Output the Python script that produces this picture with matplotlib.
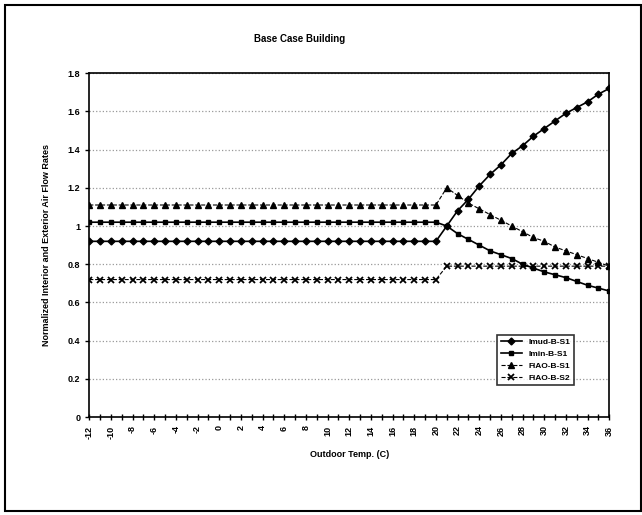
import numpy as np
import matplotlib
matplotlib.use("Agg")
import matplotlib.pyplot as plt
from matplotlib.patches import Rectangle

plt.rcParams["font.family"] = ["Liberation Sans", "DejaVu Sans"]
plt.rcParams["font.weight"] = "bold"

# outdoor temperature, one point per degree
temps = list(range(-12, 37))

# values for -12..20 are flat, then 21..36 change
imud_flat = 0.92
imud_warm = [1.00, 1.08, 1.14, 1.21, 1.27, 1.32, 1.38, 1.42,
             1.47, 1.51, 1.55, 1.59, 1.62, 1.65, 1.69, 1.72]
imin_flat = 1.02
imin_warm = [1.00, 0.96, 0.93, 0.90, 0.87, 0.85, 0.83, 0.80,
             0.78, 0.76, 0.745, 0.73, 0.71, 0.69, 0.675, 0.66]
fiao1_flat = 1.11
fiao1_warm = [1.20, 1.16, 1.12, 1.09, 1.06, 1.03, 1.00, 0.97,
              0.94, 0.92, 0.89, 0.87, 0.85, 0.83, 0.81, 0.79]
fiao2_flat = 0.72
fiao2_warm = [0.79] * 16

n_flat = 33
imud = [imud_flat] * n_flat + imud_warm
imin = [imin_flat] * n_flat + imin_warm
fiao1 = [fiao1_flat] * n_flat + fiao1_warm
fiao2 = [fiao2_flat] * n_flat + fiao2_warm

labels = ["Imud-B-S1", "Imin-B-S1", "FIAO-B-S1", "FIAO-B-S2"]

fig = plt.figure(figsize=(6.42, 5.15), dpi=100)
ax = fig.add_axes([0.139, 0.19, 0.81, 0.668])

ax.plot(temps, imud, "-", color="black", lw=1.2, marker="D", ms=3.5, label=labels[0])
ax.plot(temps, imin, "-", color="black", lw=1.2, marker="s", ms=3, label=labels[1])
ax.plot(temps, fiao1, "--", color="black", lw=0.8, marker="^", ms=4.5, label=labels[2])
ax.plot(temps, fiao2, "--", color="black", lw=0.8, marker="x", ms=4, mew=1.3, label=labels[3])

ax.set_xlim(-12, 36)
ax.set_ylim(0, 1.8)
ax.set_yticks(np.arange(0, 1.81, 0.2))
ax.set_yticklabels(["0", "0.2", "0.4", "0.6", "0.8", "1", "1.2", "1.4", "1.6", "1.8"],
                   fontsize=6.5, fontweight="bold")
ax.set_xticks(temps)
ax.set_xticklabels([str(t) if t % 2 == 0 else "" for t in temps],
                   rotation=90, fontsize=6.5, fontweight="bold")
ax.tick_params(axis="x", direction="inout", length=5, width=1)
ax.tick_params(axis="y", direction="out", length=3, width=1)
for s in ax.spines.values():
    s.set_linewidth(1.2)

ax.grid(axis="y", linestyle=":", color="0.6", lw=0.9)
ax.set_axisbelow(True)

ax.set_xlabel("Outdoor Temp. (C)", fontsize=6.5, fontweight="bold", labelpad=8)
ax.set_ylabel("Normalized Interior and Exterior Air Flow Rates", fontsize=6.5,
              fontweight="bold", labelpad=12)
fig.text(0.467, 0.925, "Base Case Building", ha="center", va="center",
         fontsize=7, fontweight="bold")

leg = ax.legend(loc="lower left", bbox_to_anchor=(0.777, 0.08), fontsize=6,
                frameon=True, fancybox=False, edgecolor="black",
                handlelength=2.5, borderpad=0.4, labelspacing=0.5)
leg.get_frame().set_linewidth(1.2)

# outer border of the page
fig.patches.append(Rectangle((0.008, 0.008), 0.99, 0.982, transform=fig.transFigure,
                             fill=False, edgecolor="black", lw=1.5))

fig.savefig("out.png", dpi=100)
